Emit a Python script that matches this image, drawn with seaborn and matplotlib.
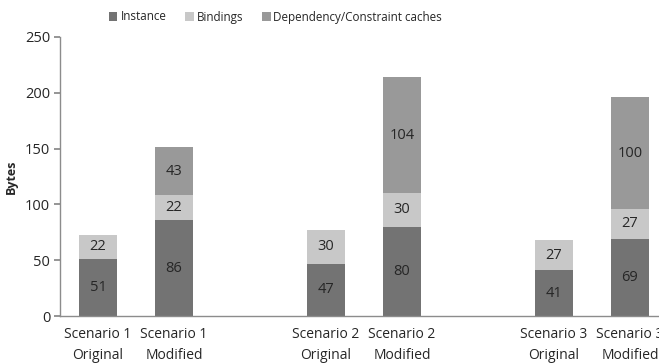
import matplotlib
matplotlib.use("Agg")
import matplotlib.pyplot as plt
from matplotlib.patches import Patch
import seaborn as sns
import pandas as pd

# Category slots along the x axis (two spacer slots separate the scenarios)
slots = ["S1 Original", "S1 Modified", "gap 1",
         "S2 Original", "S2 Modified", "gap 2",
         "S3 Original", "S3 Modified"]
tick_labels = ["Scenario 1\nOriginal", "Scenario 1\nModified", "",
               "Scenario 2\nOriginal", "Scenario 2\nModified", "",
               "Scenario 3\nOriginal", "Scenario 3\nModified"]

bars = ["S1 Original", "S1 Modified", "S2 Original",
        "S2 Modified", "S3 Original", "S3 Modified"]
instance = [51, 86, 47, 80, 41, 69]
bindings = [22, 22, 30, 30, 27, 27]
caches = [0, 43, 0, 104, 0, 100]

series_names = ["Instance", "Bindings", "Dependency/Constraint caches"]
colors = ["#737373", "#c8c8c8", "#999999"]

df = pd.DataFrame({"bar": bars, "Instance": instance,
                   "Bindings": bindings, "Caches": caches})
df["inst_top"] = df["Instance"]
df["bind_top"] = df["Instance"] + df["Bindings"]
df["cache_top"] = df["bind_top"] + df["Caches"]

sns.set_theme(style="white")
plt.rcParams["font.family"] = ["Open Sans", "DejaVu Sans"]

fig = plt.figure(figsize=(6.59, 3.64), dpi=100)
ax = fig.add_axes([60 / 659, 1 - 316 / 364, 608 / 659, (316 - 37) / 364])

# Stack by overlaying cumulative totals, tallest layer first
for col, color in [("cache_top", colors[2]), ("bind_top", colors[1]),
                   ("inst_top", colors[0])]:
    sns.barplot(data=df, x="bar", y=col, order=slots, color=color,
                width=0.5, saturation=1, ax=ax, linewidth=0)

# Segment value labels
for _, row in df.iterrows():
    xi = slots.index(row["bar"])
    bottom = 0
    for col in ["Instance", "Bindings", "Caches"]:
        v = row[col]
        if v > 0:
            ax.text(xi, bottom + v / 2, str(v), ha="center", va="center",
                    fontsize=10.5, color="#262626")
        bottom += v

ax.set_ylim(0, 250)
ax.set_yticks(range(0, 251, 50))
ax.set_xlim(-0.5, len(slots) - 0.5)
ax.set_xticks(range(len(slots)))
ax.set_xticklabels(tick_labels, fontsize=10, color="#262626",
                   linespacing=1.55)
ax.tick_params(axis="y", labelsize=10.5, colors="#262626", length=4,
               color="#888888", direction="out", left=True, pad=3)
ax.tick_params(axis="x", length=0, pad=8)
ax.set_xlabel("")
ax.set_ylabel("Bytes", fontsize=9, fontweight="bold", color="#262626",
              labelpad=5)

for side in ["top", "right"]:
    ax.spines[side].set_visible(False)
for side in ["left", "bottom"]:
    ax.spines[side].set_color("#8c8c8c")
    ax.spines[side].set_linewidth(1)

handles = [Patch(facecolor=c, edgecolor="none") for c in colors]
fig.legend(handles, series_names, loc="center", ncol=3,
           bbox_to_anchor=(0.418, 1 - 17 / 364), frameon=False,
           fontsize=8.4, handlelength=0.75, handleheight=0.75,
           handletextpad=0.25, columnspacing=1.6)

fig.savefig("out.png", dpi=100)
